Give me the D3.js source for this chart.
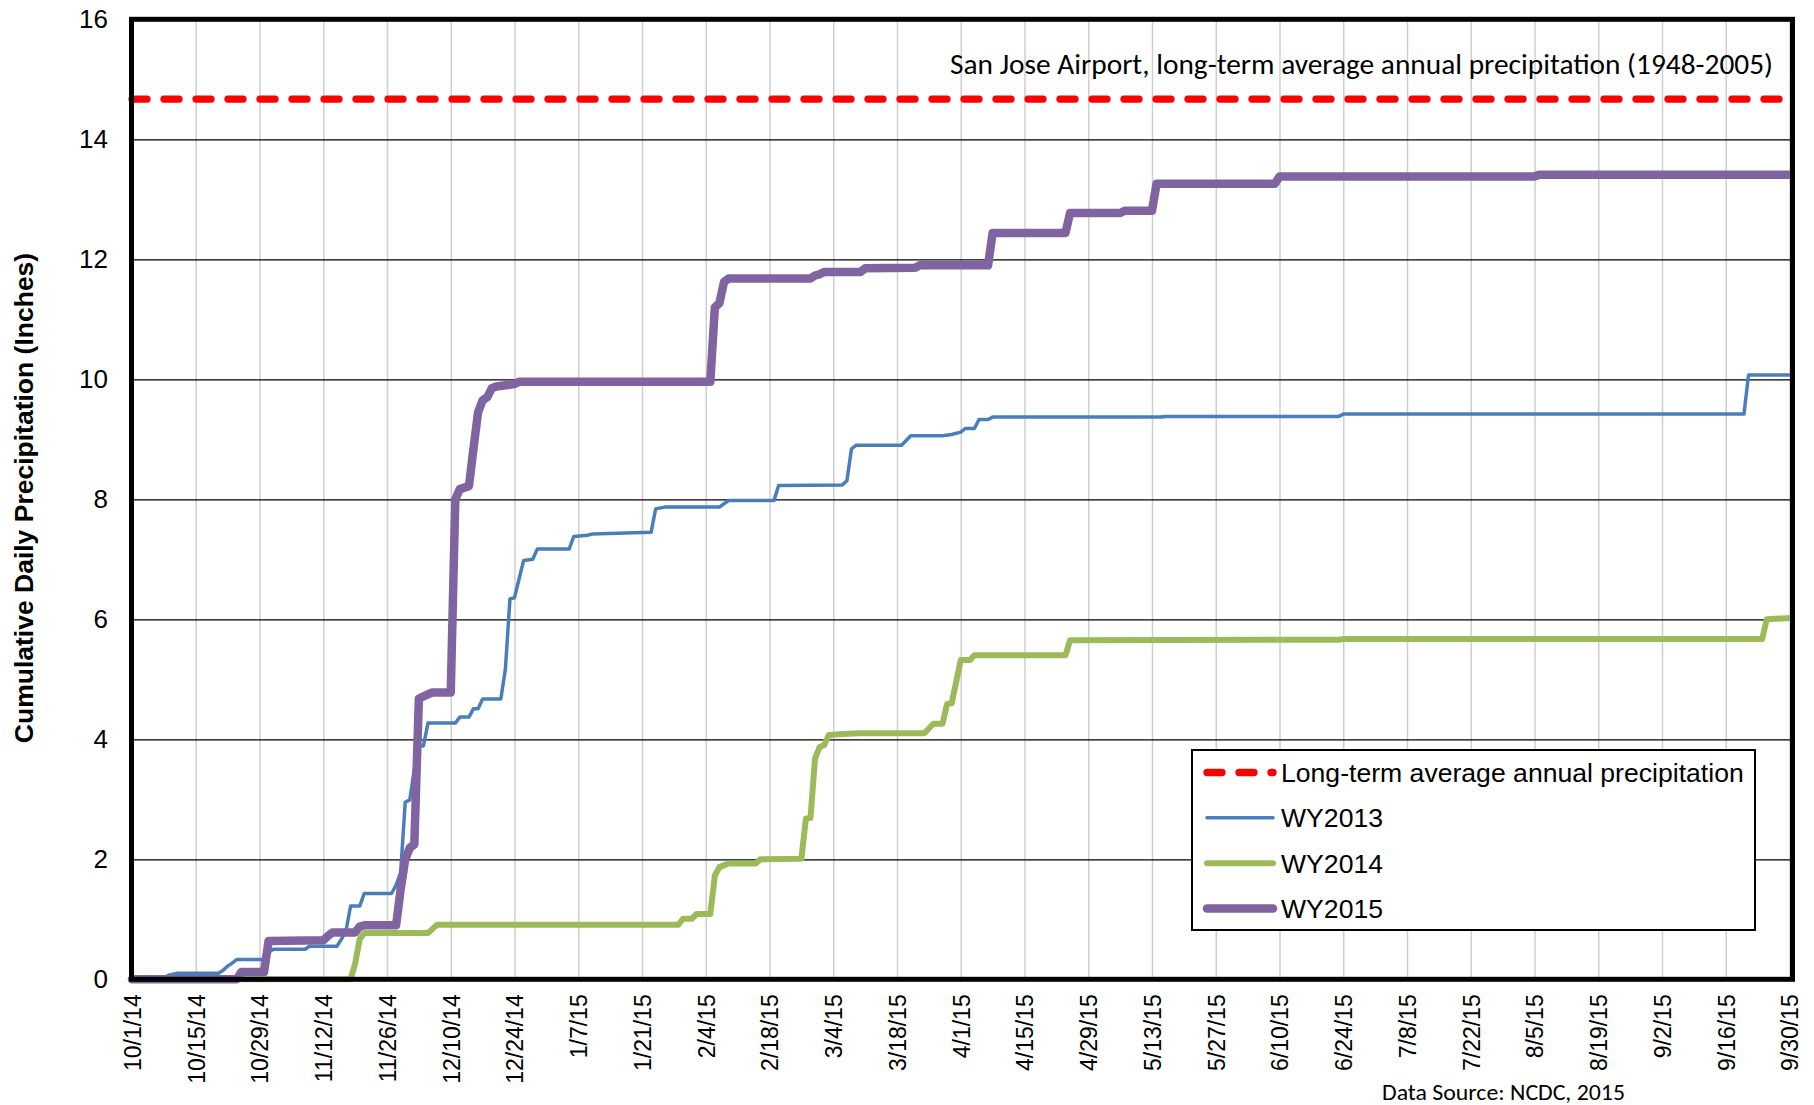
<!DOCTYPE html>
<html>
<head>
<meta charset="utf-8">
<script src="https://cdn.jsdelivr.net/npm/d3@7"></script>
<style>
  body { margin: 0; background: #fff; }
  svg { display: block; font-family: "Liberation Sans", Arial, sans-serif; }
</style>
</head>
<body>
<svg width="1814" height="1105"></svg>
<script>
// tick labels on the date axis (every 14 days)
var tickLabels = ['10/1/14', '10/15/14', '10/29/14', '11/12/14', '11/26/14', '12/10/14', '12/24/14',
  '1/7/15', '1/21/15', '2/4/15', '2/18/15', '3/4/15', '3/18/15', '4/1/15', '4/15/15', '4/29/15',
  '5/13/15', '5/27/15', '6/10/15', '6/24/15', '7/8/15', '7/22/15', '8/5/15', '8/19/15', '9/2/15',
  '9/16/15', '9/30/15']
var yTicks = [0, 2, 4, 6, 8, 10, 12, 14, 16]

// long-term average annual precipitation, San Jose Airport (inches)
var longTermAverage = 14.67

// days since Oct 1 of the water year, and cumulative inches
var wy2013Days = [0, 7, 8, 10, 19, 20, 21, 22, 23, 29, 30, 31, 38, 39, 45, 46, 47, 48, 50, 51,
  57, 58, 59, 60, 61, 62, 63, 64, 65, 71, 72, 74, 75, 76, 77, 81, 82, 83, 84, 86,
  88, 89, 96, 97, 100, 101, 114, 115, 117, 129, 131, 141, 142, 156, 157, 158, 159, 169, 171, 178,
  180, 182, 183, 185, 186, 188, 189, 226, 227, 265, 266, 354, 355, 364]
var wy2013Values = [0, 0, 0.07, 0.1, 0.1, 0.15, 0.22, 0.27, 0.33, 0.33, 0.45, 0.5, 0.5, 0.55, 0.55, 0.67, 0.81, 1.22, 1.22, 1.43,
  1.43, 1.57, 1.78, 2.95, 2.99, 3.5, 3.89, 3.89, 4.27, 4.27, 4.37, 4.37, 4.51, 4.51, 4.67, 4.67, 5.17, 6.34, 6.36, 6.98,
  7.0, 7.17, 7.17, 7.38, 7.4, 7.42, 7.45, 7.84, 7.87, 7.87, 7.98, 7.98, 8.23, 8.24, 8.31, 8.84, 8.9, 8.9, 9.06, 9.06,
  9.08, 9.12, 9.18, 9.18, 9.33, 9.33, 9.37, 9.37, 9.38, 9.38, 9.42, 9.42, 10.07, 10.07]

var wy2014Days = [0, 48, 49, 50, 51, 65, 66, 67, 120, 121, 123, 124, 127, 128, 129, 131, 137, 138, 147, 148,
  149, 150, 151, 152, 153, 156, 160, 174, 176, 178, 179, 180, 182, 184, 185, 205, 206, 265, 266, 358,
  359, 364]
var wy2014Values = [0, 0, 0.26, 0.67, 0.77, 0.77, 0.84, 0.91, 0.91, 1.01, 1.01, 1.09, 1.09, 1.73, 1.87, 1.93, 1.93, 2.0, 2.01, 2.68,
  2.69, 3.68, 3.87, 3.9, 4.07, 4.09, 4.1, 4.1, 4.26, 4.26, 4.59, 4.6, 5.32, 5.32, 5.4, 5.4, 5.65, 5.66, 5.67, 5.67,
  6.0, 6.02]

var wy2015Days = [0, 23, 24, 29, 30, 42, 43, 44, 49, 50, 51, 58, 59, 60, 61, 62, 63, 65, 66, 70,
  71, 72, 74, 75, 76, 77, 78, 79, 80, 82, 84, 85, 127, 128, 129, 130, 131, 149, 150, 151,
  152, 160, 161, 172, 173, 188, 189, 205, 206, 217, 218, 224, 225, 251, 252, 308, 309, 364]
var wy2015Values = [0, 0, 0.12, 0.12, 0.64, 0.65, 0.72, 0.78, 0.78, 0.88, 0.9, 0.9, 1.5, 2.0, 2.19, 2.25, 4.68, 4.75, 4.78, 4.78,
  8.0, 8.17, 8.22, 8.85, 9.45, 9.65, 9.7, 9.85, 9.88, 9.9, 9.92, 9.96, 9.96, 11.2, 11.27, 11.62, 11.68, 11.68, 11.73, 11.75,
  11.79, 11.79, 11.85, 11.86, 11.9, 11.9, 12.44, 12.44, 12.77, 12.77, 12.81, 12.81, 13.26, 13.26, 13.38, 13.38, 13.41, 13.41]

var legendLabels = ['Long-term average annual precipitation', 'WY2013', 'WY2014', 'WY2015']

var svg = d3.select('svg')
var parseDate = d3.timeParse('%m/%d/%y')
var start = parseDate(tickLabels[0])
var tickDates = tickLabels.map(parseDate)

// plot area edges
var plotLeft = 132, plotRight = 1789.5, plotTop = 19.3, plotBottom = 979.3, frameRight = 1792.5

var x = d3.scaleTime().domain([start, tickDates[tickDates.length - 1]]).range([plotLeft, plotRight])
var y = d3.scaleLinear().domain([0, 16]).range([plotBottom, plotTop])

svg.append('rect').attr('width', 1814).attr('height', 1105).attr('fill', '#fff')

// vertical grid (light gray)
svg.append('g')
  .attr('transform', 'translate(0,' + plotBottom + ')')
  .call(d3.axisBottom(x).tickValues(tickDates).tickSize(-(plotBottom - plotTop)).tickFormat(''))
  .call(function (g) { g.select('.domain').remove() })
  .selectAll('line').attr('stroke', '#cfcfcf').attr('stroke-width', 1.5)

// horizontal grid (black)
svg.append('g')
  .attr('transform', 'translate(' + plotLeft + ',0)')
  .call(d3.axisLeft(y).tickValues(yTicks).tickSize(-(frameRight - plotLeft)).tickFormat(''))
  .call(function (g) { g.select('.domain').remove() })
  .selectAll('line').attr('stroke', '#000').attr('stroke-width', 1.3)

// y axis labels
svg.append('g')
  .attr('transform', 'translate(' + plotLeft + ',0)')
  .call(d3.axisLeft(y).tickValues(yTicks).tickSize(0).tickPadding(24))
  .call(function (g) { g.select('.domain').remove() })
  .selectAll('text')
  .attr('font-size', 26)
  .attr('font-family', '"Liberation Sans", Arial, sans-serif')
  .attr('fill', '#000')

// x axis labels, rotated
svg.append('g')
  .attr('transform', 'translate(0,' + plotBottom + ')')
  .call(d3.axisBottom(x).tickValues(tickDates).tickSize(0).tickFormat(function (d, i) { return tickLabels[i] }))
  .call(function (g) { g.select('.domain').remove() })
  .selectAll('text')
  .attr('font-size', 23)
  .attr('font-family', '"Liberation Sans", Arial, sans-serif')
  .attr('fill', '#000')
  .attr('transform', 'rotate(-90)')
  .attr('x', -15)
  .attr('y', 0)
  .attr('dy', '0.36em')
  .attr('text-anchor', 'end')

// y axis title
svg.append('text')
  .attr('transform', 'translate(33,498) rotate(-90)')
  .attr('text-anchor', 'middle')
  .attr('font-size', 26.5)
  .attr('font-weight', 'bold')
  .text('Cumulative Daily Precipitation (Inches)')

function series (days, values) {
  return days.map(function (d, i) { return { date: d3.timeDay.offset(start, d), value: values[i] } })
}

var line = d3.line()
  .x(function (d) { return x(d.date) })
  .y(function (d) { return y(d.value) })

// long-term average
svg.append('path')
  .datum([{ date: start, value: longTermAverage }, { date: tickDates[tickDates.length - 1], value: longTermAverage }])
  .attr('fill', 'none')
  .attr('stroke', '#ff0000')
  .attr('stroke-width', 7.3)
  .attr('stroke-linecap', 'round')
  .attr('stroke-dasharray', '15,17')
  .attr('d', line)

var lines = [
  { data: series(wy2013Days, wy2013Values), color: '#4a7ebb', width: 3.5 },
  { data: series(wy2014Days, wy2014Values), color: '#9bbb59', width: 6 },
  { data: series(wy2015Days, wy2015Values), color: '#8064a2', width: 8.5 }
]

lines.forEach(function (s) {
  svg.append('path')
    .datum(s.data)
    .attr('fill', 'none')
    .attr('stroke', s.color)
    .attr('stroke-width', s.width)
    .attr('stroke-linejoin', 'round')
    .attr('stroke-linecap', 'round')
    .attr('d', line)
})

// plot frame
svg.append('rect')
  .attr('x', 131.5).attr('y', plotTop)
  .attr('width', frameRight - 131.5).attr('height', plotBottom - plotTop)
  .attr('fill', 'none')
  .attr('stroke', '#000')
  .attr('stroke-width', 5)

// annotation
svg.append('text')
  .attr('x', 1773).attr('y', 74)
  .attr('text-anchor', 'end')
  .attr('font-family', 'Carlito, Calibri, Lato, sans-serif')
  .attr('font-size', 28)
  .attr('textLength', 823)
  .attr('lengthAdjust', 'spacingAndGlyphs')
  .text('San Jose Airport, long-term average annual precipitation (1948-2005)')

svg.append('text')
  .attr('x', 1382).attr('y', 1100)
  .attr('font-family', 'Carlito, Calibri, Lato, sans-serif')
  .attr('font-size', 22.5)
  .attr('textLength', 243)
  .attr('lengthAdjust', 'spacingAndGlyphs')
  .text('Data Source: NCDC, 2015')

// legend
var legend = svg.append('g')
legend.append('rect')
  .attr('x', 1192).attr('y', 750)
  .attr('width', 563).attr('height', 180)
  .attr('fill', '#fff')
  .attr('stroke', '#000')
  .attr('stroke-width', 2)

var legendStyles = [
  { color: '#ff0000', width: 7.3, dash: '15,17' },
  { color: '#4a7ebb', width: 3.5, dash: null },
  { color: '#9bbb59', width: 6, dash: null },
  { color: '#8064a2', width: 8.5, dash: null }
]

var legendY = d3.scalePoint().domain(legendLabels).range([772.5, 908.5])

legendLabels.forEach(function (lab, i) {
  var ly = legendY(lab)
  legend.append('line')
    .attr('x1', 1207).attr('x2', 1273)
    .attr('y1', ly).attr('y2', ly)
    .attr('stroke', legendStyles[i].color)
    .attr('stroke-width', legendStyles[i].width)
    .attr('stroke-linecap', 'round')
    .attr('stroke-dasharray', legendStyles[i].dash)
  legend.append('text')
    .attr('x', 1281).attr('y', ly)
    .attr('dy', '0.36em')
    .attr('font-size', 26.6)
    .text(lab)
})
</script>
</body>
</html>
